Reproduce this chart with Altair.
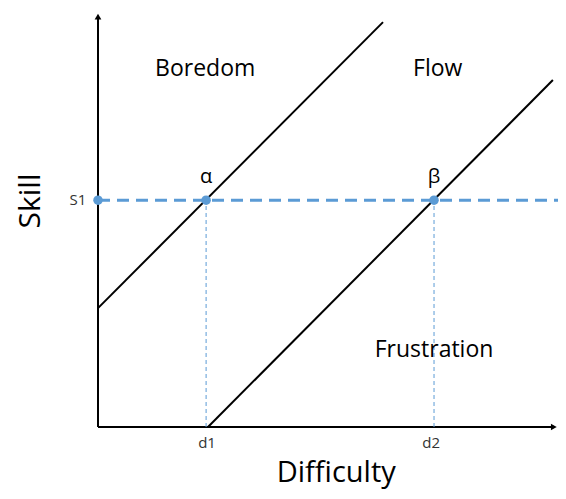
import altair as alt
import pandas as pd

# Data (chart units: x 0..~9.83, y 0..10)
line_names = ["upper", "upper", "lower", "lower"]
line_x = [0.0, 6.09, 2.35, 9.72]
line_y = [2.85, 9.71, 0.0, 8.32]

s1 = 5.44
d1 = 2.31
d2 = 7.18

point_x = [0.0, d1, d2]
point_y = [s1, s1, s1]

region_labels = ["Boredom", "Flow", "Frustration"]
region_x = [2.29, 7.26, 7.18]
region_y = [8.42, 8.42, 1.68]

greek_labels = ["α", "β"]
greek_x = [d1, d2]

tick_labels = ["d1", "d2"]
tick_x = [2.33, 7.12]

xs = alt.Scale(domain=[0, 9.829], nice=False, zero=False)
ys = alt.Scale(domain=[0, 10], nice=False, zero=False)
X = lambda f: alt.X(f, type="quantitative", scale=xs, axis=None)
Y = lambda f: alt.Y(f, type="quantitative", scale=ys, axis=None)

BLUE = "#5B9BD5"
FONT = "Open Sans"

lines_df = pd.DataFrame({"name": line_names, "x": line_x, "y": line_y})
diag = alt.Chart(lines_df).mark_line(color="black", strokeWidth=2).encode(
    x=X("x"), y=Y("y"), detail="name:N")

# axes
axes_df = pd.DataFrame({"x": [0, 0], "y": [0, 0], "x2": [9.7, 0], "y2": [0, 9.85]})
axes = alt.Chart(axes_df).mark_rule(color="black", strokeWidth=2).encode(
    x=X("x"), y=Y("y"), x2="x2", y2="y2")
arrow_up = alt.Chart(pd.DataFrame({"x": [0], "y": [9.84]})).mark_point(
    shape="triangle-up", filled=True, color="black", size=45, opacity=1).encode(x=X("x"), y=Y("y"))
arrow_right = alt.Chart(pd.DataFrame({"x": [9.74], "y": [0]})).mark_point(
    shape="triangle-right", filled=True, color="black", size=45, opacity=1).encode(x=X("x"), y=Y("y"))

# dashed horizontal S1
hdash = alt.Chart(pd.DataFrame({"x": [0], "x2": [9.829], "y": [s1]})).mark_rule(
    color=BLUE, strokeWidth=3, strokeDash=[12, 7]).encode(x=X("x"), x2="x2", y=Y("y"))

# vertical thin dashed
vdash = alt.Chart(pd.DataFrame({"x": [d1, d2], "y": [0, 0], "y2": [s1, s1]})).mark_rule(
    color=BLUE, strokeWidth=1, strokeDash=[4, 3]).encode(x=X("x"), y=Y("y"), y2="y2")

pts = alt.Chart(pd.DataFrame({"x": point_x, "y": point_y})).mark_circle(
    color=BLUE, size=90, opacity=1).encode(x=X("x"), y=Y("y"))

regions = alt.Chart(pd.DataFrame({"t": region_labels, "x": region_x, "y": region_y})).mark_text(
    font=FONT, fontSize=23, color="black", baseline="alphabetic").encode(x=X("x"), y=Y("y"), text="t:N")

greek = alt.Chart(pd.DataFrame({"t": greek_labels, "x": greek_x, "y": [5.85, 5.85]})).mark_text(
    font=FONT, fontSize=20, color="black", baseline="alphabetic").encode(x=X("x"), y=Y("y"), text="t:N")

ticks = alt.Chart(pd.DataFrame({"t": tick_labels, "x": tick_x, "y": [-0.38, -0.38]})).mark_text(
    font=FONT, fontSize=15, color="#333333").encode(x=X("x"), y=Y("y"), text="t:N")

s1lab = alt.Chart(pd.DataFrame({"t": ["S1"], "x": [-0.43], "y": [s1]})).mark_text(
    font=FONT, fontSize=15, color="#333333").encode(x=X("x"), y=Y("y"), text="t:N")

ytitle = alt.Chart(pd.DataFrame({"t": ["Skill"], "x": [-1.43], "y": [5.42]})).mark_text(
    font=FONT, fontSize=30, color="black", angle=270).encode(x=X("x"), y=Y("y"), text="t:N")

xtitle = alt.Chart(pd.DataFrame({"t": ["Difficulty"], "x": [5.09], "y": [-1.33]})).mark_text(
    font=FONT, fontSize=29, color="black", baseline="alphabetic").encode(x=X("x"), y=Y("y"), text="t:N")

chart = alt.layer(diag, axes, arrow_up, arrow_right, hdash, vdash, pts,
                  regions, greek, ticks, s1lab, ytitle, xtitle).properties(
    width=460, height=417,
    autosize=alt.AutoSizeParams(type="none"),
    padding={"left": 90, "top": 2, "right": 0, "bottom": 64},
    background="white",
).configure_view(stroke=None)

chart.save("out.html", embed_options={"renderer": "svg", "actions": False})
